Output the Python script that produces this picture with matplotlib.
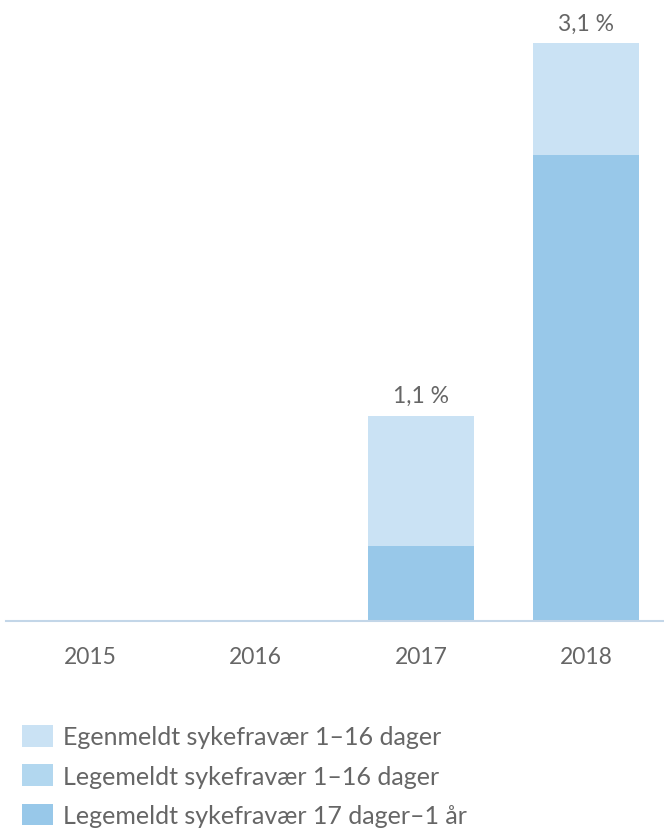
import matplotlib.pyplot as plt
import numpy as np

plt.rcParams['font.family'] = ['Lato', 'DejaVu Sans']

years = ['2015', '2016', '2017', '2018']
egenmeldt = [0.0, 0.0, 0.7, 0.6]
legemeldt_kort = [0.0, 0.0, 0.0, 0.0]
legemeldt_lang = [0.0, 0.0, 0.4, 2.5]
totals = ['', '', '1,1 %', '3,1 %']

labels = ['Egenmeldt sykefravær 1–16 dager',
          'Legemeldt sykefravær 1–16 dager',
          'Legemeldt sykefravær 17 dager–1 år']
colors = ['#cae2f4', '#b2d7ef', '#98c8e9']
grey = '#666666'

fig = plt.figure(figsize=(6.64, 8.29), dpi=100)
ax = fig.add_axes([6 / 664, 207 / 829, 658 / 664, 622 / 829])

x = np.arange(len(years))
w = 0.64
b1 = np.array(legemeldt_lang)
b2 = b1 + np.array(legemeldt_kort)
h_lang = ax.bar(x, legemeldt_lang, w, color=colors[2], label=labels[2])
h_kort = ax.bar(x, legemeldt_kort, w, bottom=b1, color=colors[1], label=labels[1])
h_egen = ax.bar(x, egenmeldt, w, bottom=b2, color=colors[0], label=labels[0])

tops = b2 + np.array(egenmeldt)
for xi, t, s in zip(x, tops, totals):
    if s:
        ax.annotate(s, (xi, t), xytext=(0, 7), textcoords='offset points',
                    ha='center', va='bottom', fontsize=16.5, color=grey)

ax.set_xlim(-0.508, 3.47)
ax.set_ylim(0, 622 / 186.4)
ax.set_xticks(x)
ax.set_xticklabels(years, fontsize=16.5, color=grey)
ax.tick_params(axis='x', length=0, pad=18)
ax.set_yticks([])
for s in ['top', 'right', 'left']:
    ax.spines[s].set_visible(False)
ax.spines['bottom'].set_color('#c3d6e8')
ax.spines['bottom'].set_linewidth(1.5)

fig.legend([h_egen, h_kort, h_lang], labels, loc='upper left',
           bbox_to_anchor=(12 / 664, 1 - 716 / 829), frameon=False,
           fontsize=18, labelcolor=grey, handlelength=1.25, handleheight=0.95,
           handletextpad=0.4, labelspacing=0.64, borderaxespad=0)

fig.savefig('out.png', dpi=100)
